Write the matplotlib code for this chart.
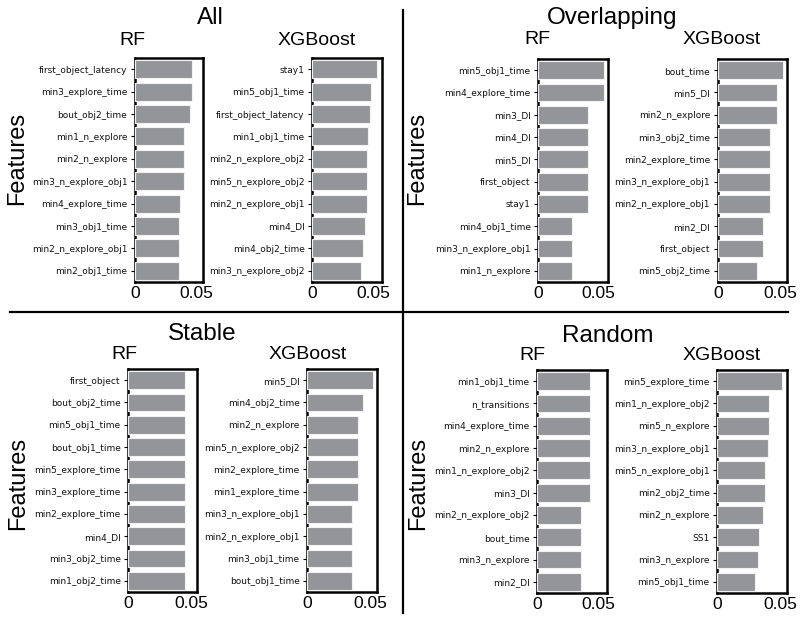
"""
Feature importance panels (RF vs XGBoost) for four feature sets.
Output: out.png
"""

import matplotlib
matplotlib.use('Agg')
import matplotlib.pyplot as plt
from matplotlib.lines import Line2D

W, H = 807, 619
BAR_COLOR = '#939599'
TITLE_FONT = 'Liberation Sans'

# ── data ─────────────────────────────────────────────────────────────────────
all_rf_features = ['first_object_latency', 'min3_explore_time', 'bout_obj2_time',
                   'min1_n_explore', 'min2_n_explore', 'min3_n_explore_obj1',
                   'min4_explore_time', 'min3_obj1_time', 'min2_n_explore_obj1',
                   'min2_obj1_time']
all_rf_values = [0.0459, 0.0459, 0.0446, 0.0397, 0.0397, 0.0397,
                 0.0367, 0.0357, 0.0357, 0.0357]

all_xgb_features = ['stay1', 'min5_obj1_time', 'first_object_latency', 'min1_obj1_time',
                    'min2_n_explore_obj2', 'min5_n_explore_obj2', 'min2_n_explore_obj1',
                    'min4_DI', 'min4_obj2_time', 'min3_n_explore_obj2']
all_xgb_values = [0.0533, 0.0481, 0.0473, 0.0459, 0.0446, 0.0446,
                  0.0446, 0.0432, 0.0418, 0.0397]

overlap_rf_features = ['min5_obj1_time', 'min4_explore_time', 'min3_DI', 'min4_DI',
                       'min5_DI', 'first_object', 'stay1', 'min4_obj1_time',
                       'min3_n_explore_obj1', 'min1_n_explore']
overlap_rf_values = [0.0548, 0.0548, 0.0417, 0.0414, 0.0414, 0.0412,
                     0.0412, 0.0281, 0.0278, 0.0278]

overlap_xgb_features = ['bout_time', 'min5_DI', 'min2_n_explore', 'min3_obj2_time',
                        'min2_explore_time', 'min3_n_explore_obj1', 'min2_n_explore_obj1',
                        'min2_DI', 'first_object', 'min5_obj2_time']
overlap_xgb_values = [0.0527, 0.0473, 0.0473, 0.0420, 0.0420, 0.0420,
                      0.0420, 0.0366, 0.0366, 0.0318]

stable_rf_features = ['first_object', 'bout_obj2_time', 'min5_obj1_time', 'bout_obj1_time',
                      'min5_explore_time', 'min3_explore_time', 'min2_explore_time',
                      'min4_DI', 'min3_obj2_time', 'min1_obj2_time']
stable_rf_values = [0.0449, 0.0449, 0.0449, 0.0449, 0.0449, 0.0449,
                    0.0449, 0.0449, 0.0449, 0.0449]

stable_xgb_features = ['min5_DI', 'min4_obj2_time', 'min2_n_explore', 'min5_n_explore_obj2',
                       'min2_explore_time', 'min1_explore_time', 'min3_n_explore_obj1',
                       'min2_n_explore_obj1', 'min3_obj1_time', 'bout_obj1_time']
stable_xgb_values = [0.0521, 0.0447, 0.0402, 0.0402, 0.0402, 0.0402,
                     0.0359, 0.0359, 0.0359, 0.0359]

random_rf_features = ['min1_obj1_time', 'n_transitions', 'min4_explore_time', 'min2_n_explore',
                      'min1_n_explore_obj2', 'min3_DI', 'min2_n_explore_obj2', 'bout_time',
                      'min3_n_explore', 'min2_DI']
random_rf_values = [0.0432, 0.0432, 0.0432, 0.0432, 0.0432, 0.0432,
                    0.0356, 0.0356, 0.0356, 0.0356]

random_xgb_features = ['min5_explore_time', 'min1_n_explore_obj2', 'min5_n_explore',
                       'min3_n_explore_obj1', 'min5_n_explore_obj1', 'min2_obj2_time',
                       'min2_n_explore', 'SS1', 'min3_n_explore', 'min5_obj1_time']
random_xgb_values = [0.0516, 0.0408, 0.0408, 0.0400, 0.0379, 0.0379,
                     0.0365, 0.0333, 0.0325, 0.0302]

# ── layout (pixel boxes: x0, x1, y0, y1, xmax) ───────────────────────────────
PANELS = [
    (all_rf_features, all_rf_values, (135.0, 203.0, 58.0, 282.0, 0.0551)),
    (all_xgb_features, all_xgb_values, (312.3, 381.7, 58.0, 282.0, 0.0569)),
    (overlap_rf_features, overlap_rf_values, (538.3, 607.7, 59.0, 282.0, 0.0578)),
    (overlap_xgb_features, overlap_xgb_values, (717.7, 787.3, 59.0, 282.0, 0.0559)),
    (stable_rf_features, stable_rf_values, (128.3, 196.7, 369.0, 592.0, 0.0539)),
    (stable_xgb_features, stable_xgb_values, (307.3, 376.7, 369.0, 592.0, 0.0553)),
    (random_rf_features, random_rf_values, (537.3, 606.7, 370.0, 593.0, 0.0569)),
    (random_xgb_features, random_xgb_values, (717.3, 786.7, 370.0, 593.0, 0.0551)),
]

# (text, x, baseline y, size)
TITLES = [
    ('All', 210, 23.5, 17.5), ('RF', 132, 45, 14), ('XGBoost', 317, 45, 14),
    ('Overlapping', 612, 24, 17.5), ('RF', 537, 43.5, 14), ('XGBoost', 722, 43.5, 14),
    ('Stable', 202, 340, 17.5), ('RF', 124, 359, 14), ('XGBoost', 308, 359, 14),
    ('Random', 608, 341.5, 17.5), ('RF', 532, 360, 14), ('XGBoost', 722, 360, 14),
]
YLABELS = [(17, 158), (417, 158), (18, 483), (418, 483)]


def fx(px):
    return px / W


def fy(py):
    return 1 - py / H


def draw_panel(fig, features, values, box):
    x0, x1, y0, y1, xmax = box
    ax = fig.add_axes([fx(x0), fy(y1), (x1 - x0) / W, (y1 - y0) / H])
    ypos = list(range(len(features)))
    ax.barh(ypos, values, height=0.8, color=BAR_COLOR, edgecolor='#f2f2f2',
            linewidth=0.8, zorder=3)
    ax.set_yticks(ypos)
    ax.set_yticklabels(features, fontsize=6.5, family='DejaVu Sans', color='#111')
    ax.set_ylim(len(features) - 0.5, -0.5)
    ax.set_xlim(0, xmax)
    ax.set_xticks([0, 0.05])
    ax.set_xticklabels(['0', '0.05'], fontsize=12.5, family=TITLE_FONT)
    ax.tick_params(axis='y', length=3, width=0.8, pad=2.5)
    ax.tick_params(axis='x', length=0, pad=3)
    for sp in ax.spines.values():
        sp.set_linewidth(1.8)
        sp.set_color('black')
    return ax


fig = plt.figure(figsize=(W / 100, H / 100), dpi=100)

for features, values, box in PANELS:
    draw_panel(fig, features, values, box)

for text, x, y, size in TITLES:
    fig.text(fx(x), fy(y), text, ha='center', va='baseline',
             fontsize=size, family=TITLE_FONT)

for x, y in YLABELS:
    fig.text(fx(x), fy(y), 'Features', rotation=90, ha='center', va='center',
             fontsize=17, family=TITLE_FONT)

# quadrant dividers
fig.add_artist(Line2D([fx(10), fx(788)], [fy(311.5), fy(311.5)],
                      color='black', linewidth=1.6))
fig.add_artist(Line2D([fx(403), fx(403)], [fy(10), fy(613)],
                      color='black', linewidth=1.6))

fig.savefig('out.png', dpi=100)
